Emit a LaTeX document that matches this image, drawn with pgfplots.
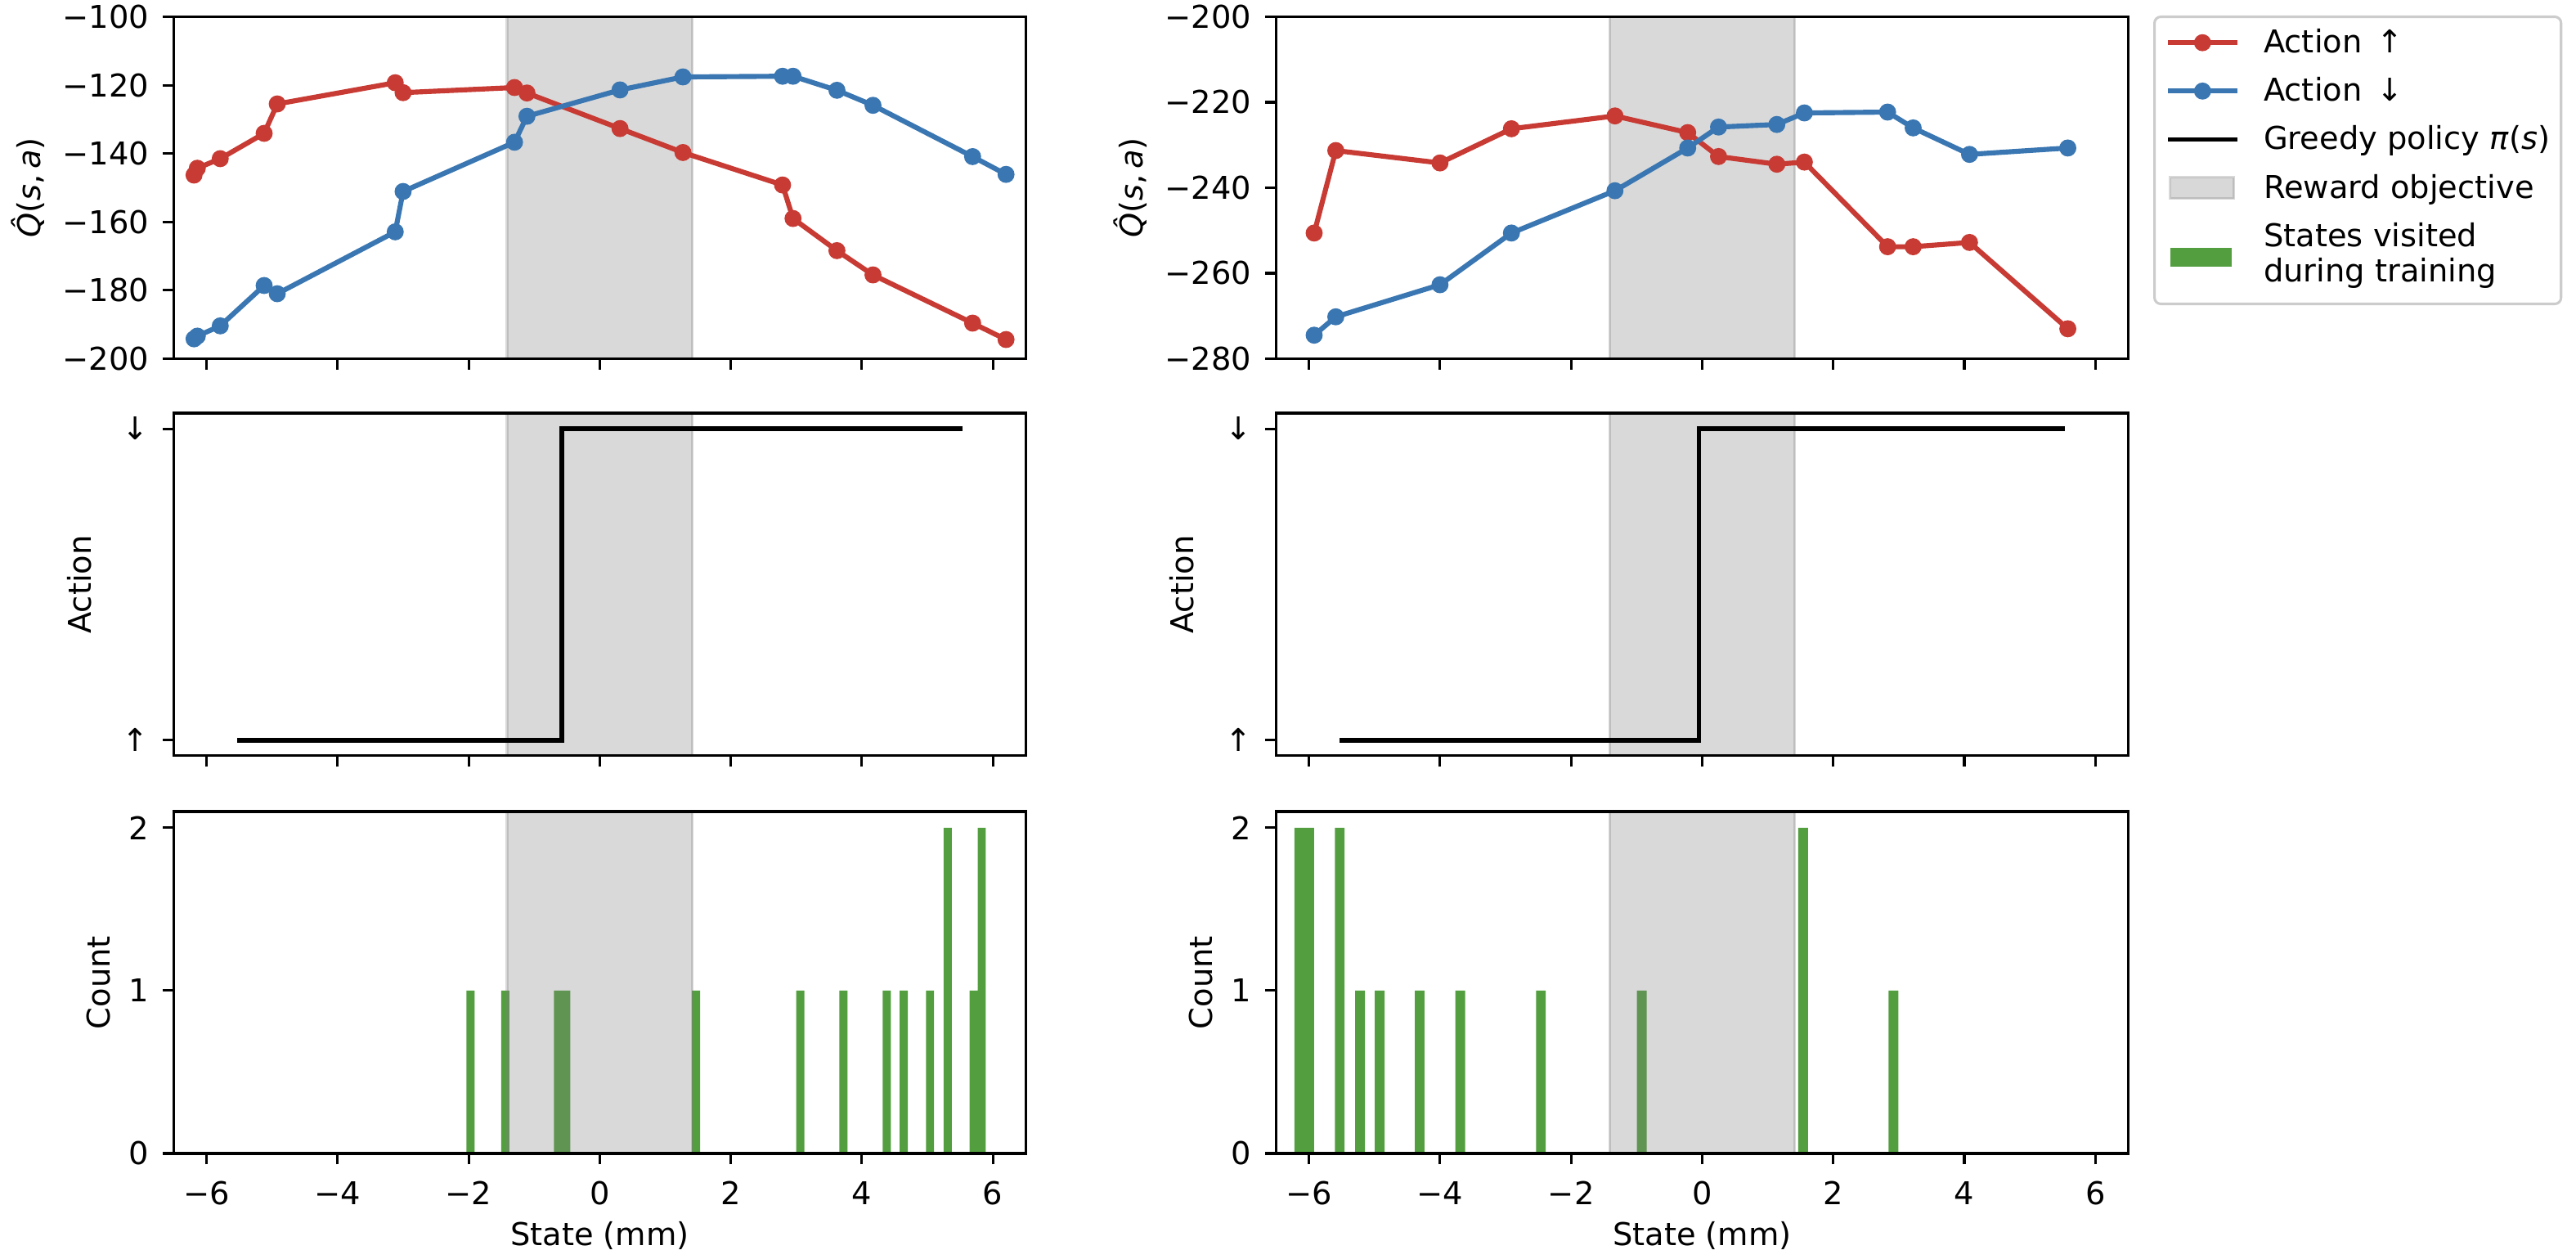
\documentclass[border=0pt]{standalone}
\usepackage{fontspec}
\setmainfont{DejaVu Sans}
\usepackage{pgfplots}
\usepackage{pgfplotstable}
\pgfplotsset{compat=1.18}

\definecolor{cred}{HTML}{C83B34}
\definecolor{cblue}{HTML}{3A77B2}
\definecolor{cgreen}{HTML}{539E3F}

\pgfplotstableread{
x up down
-6.19 -146.3 -194.2
-6.14 -144.3 -193.4
-5.79 -141.5 -190.4
-5.12 -134.1 -178.6
-4.92 -125.5 -181.0
-3.12 -119.3 -162.9
-3.00 -122.2 -151.1
-1.30 -120.7 -136.7
-1.11 -122.3 -129.1
0.31 -132.7 -121.4
1.27 -139.7 -117.6
2.79 -149.2 -117.4
2.95 -159.0 -117.4
3.62 -168.4 -121.5
4.17 -175.5 -125.9
5.69 -189.6 -140.9
6.20 -194.4 -146.1
}\qleft

\pgfplotstableread{
x up down
-5.92 -250.6 -274.5
-5.59 -231.3 -270.2
-4.00 -234.2 -262.7
-2.91 -226.2 -250.6
-1.33 -223.2 -240.7
-0.22 -227.1 -230.7
0.25 -232.7 -225.8
1.14 -234.5 -225.2
1.56 -234.0 -222.5
2.83 -253.8 -222.3
3.22 -253.8 -226.0
4.08 -252.8 -232.2
5.58 -273.0 -230.7
}\qright

\pgfplotstableread{
x a
-5.5 0
-0.58 0
-0.58 1
5.5 1
}\pleft

\pgfplotstableread{
x a
-5.5 0
-0.05 0
-0.05 1
5.5 1
}\pright

\pgfplotstableread{
x count
-1.97 1
-1.44 1
-0.635 1
-0.511 1
1.47 1
3.06 1
3.72 1
4.38 1
4.64 1
5.04 1
5.31 2
5.705 1
5.829 2
}\hleft

\pgfplotstableread{
x count
-6.145 2
-5.996 2
-5.53 2
-5.22 1
-4.92 1
-4.31 1
-3.69 1
-2.46 1
-0.92 1
1.54 2
2.92 1
}\hright

\pgfplotsset{
  panel/.style={
    scale only axis, width=271.3pt,
    anchor=south west,
    xmin=-6.5, xmax=6.5,
    xtick={-6,-4,-2,0,2,4,6},
    xticklabels={},
    axis line style={line width=0.8pt},
    every tick/.append style={black, line width=0.8pt},
    major tick length=3.5pt,
    tick align=outside,
    xtick pos=left, ytick pos=left,
    tick label style={font=\fontsize{10}{12}\selectfont, inner sep=0pt},
    yticklabel style={anchor=east, xshift=-4.2pt},
    xticklabel style={anchor=north, yshift=-5.2pt},
    label style={font=\fontsize{10}{12}\selectfont},
    axis on top,
  },
  qpanel/.style={panel, height=108.85pt,
    ylabel={\textit{\^{Q}}(\textit{s},\,\textit{a})},
    ylabel style={at={(axis description cs:-0.156,0.5)}, anchor=base}},
  ppanel/.style={panel, height=109.1pt,
    ymin=-0.05, ymax=1.05, ytick={0,1}, yticklabels={↑,↓},
    ylabel={Action},
    ylabel style={at={(axis description cs:-0.0965,0.5)}, anchor=base}},
  hpanel/.style={panel, height=108.85pt,
    ymin=0, ymax=2.1, ytick={0,1,2}, yticklabels={0,1,2},
    ylabel={Count},
    ylabel style={at={(axis description cs:-0.0744,0.5)}, anchor=base},
    xticklabels={−6,−4,−2,0,2,4,6},
    xlabel={State (mm)},
    xlabel style={at={(axis description cs:0.5,0)}, anchor=base, yshift=-29.2pt}},
  spanstyle/.style={fill=gray, fill opacity=0.3, draw=gray, draw opacity=0.3, line width=0.8pt, forget plot},
  qline/.style={line width=1.6pt, mark=*, mark size=1.9pt, forget plot},
  lineleg/.style={legend image code/.code={\draw[sharp corners,mark repeat=2,mark phase=2,##1] plot coordinates {(0pt,1pt) (11pt,1pt) (22pt,1pt)};}},
  grayleg/.style={legend image code/.code={\path[sharp corners,##1] (0.65pt,-2.4pt) rectangle (21pt,4.4pt);}},
  greenleg/.style={legend image code/.code={\fill[sharp corners,##1] (0.8pt,-3pt) rectangle (20.3pt,3pt);}},
}

\begin{document}
\begin{tikzpicture}
\useasboundingbox (0,0) rectangle (820.31pt,400.78pt);

% ---------- top left ----------
\begin{axis}[qpanel, at={(55.32pt,286.59pt)},
  ymin=-200, ymax=-100, ytick={-200,-180,-160,-140,-120,-100},
  yticklabels={−200,−180,−160,−140,−120,−100}]
\addplot[spanstyle] coordinates {(-1.414,-210) (-1.414,-90) (1.414,-90) (1.414,-210)} -- cycle;
\addplot[qline, cred] table[x=x, y=up] {\qleft};
\addplot[qline, cblue] table[x=x, y=down] {\qleft};
\end{axis}

% ---------- top right ----------
\begin{axis}[qpanel, at={(406.38pt,286.59pt)},
  ymin=-280, ymax=-200, ytick={-280,-260,-240,-220,-200},
  yticklabels={−280,−260,−240,−220,−200},
  legend style={
    at={(rel axis cs:1,1)}, anchor=north west, xshift=8.0pt, yshift=0.4pt,
    draw=black!20, line width=0.8pt, rounded corners=2pt, fill=white,
    font=\fontsize{10}{11.3}\selectfont,
    inner xsep=3.5pt, inner ysep=3.6pt,
    row sep=4.1pt, column sep=7.7pt,
    nodes={inner sep=0pt, text depth=},
    cells={anchor=west, align=left},
  }]
\addlegendimage{lineleg, cred, line width=1.6pt, mark=*, mark size=1.9pt}
\addlegendentry{\strut Action\hspace{4.6pt}↑}
\addlegendimage{lineleg, cblue, line width=1.6pt, mark=*, mark size=1.9pt}
\addlegendentry{\strut Action\hspace{4.6pt}↓}
\addlegendimage{lineleg, black, line width=1.5pt}
\addlegendentry{\strut Greedy policy \textit{π}(\textit{s})}
\addlegendimage{grayleg, fill=gray, fill opacity=0.3, draw=gray, draw opacity=0.3, line width=0.8pt}
\addlegendentry{\strut Reward objective}
\addlegendimage{greenleg, fill=cgreen, draw=none}
\addlegendentry{\strut States visited\\\strut during training}
\addplot[spanstyle] coordinates {(-1.414,-290) (-1.414,-190) (1.414,-190) (1.414,-290)} -- cycle;
\addplot[qline, cred] table[x=x, y=up] {\qright};
\addplot[qline, cblue] table[x=x, y=down] {\qright};
\end{axis}

% ---------- middle left ----------
\begin{axis}[ppanel, at={(55.32pt,160.16pt)}]
\addplot[spanstyle] coordinates {(-1.414,-0.2) (-1.414,1.2) (1.414,1.2) (1.414,-0.2)} -- cycle;
\addplot[black, line width=1.5pt, line cap=rect, forget plot] table[x=x, y=a] {\pleft};
\end{axis}

% ---------- middle right ----------
\begin{axis}[ppanel, at={(406.38pt,160.16pt)}]
\addplot[spanstyle] coordinates {(-1.414,-0.2) (-1.414,1.2) (1.414,1.2) (1.414,-0.2)} -- cycle;
\addplot[black, line width=1.5pt, line cap=rect, forget plot] table[x=x, y=a] {\pright};
\end{axis}

% ---------- bottom left ----------
\begin{axis}[hpanel, at={(55.32pt,33.59pt)}]
\addplot[ybar, bar width=0.124, fill=cgreen, draw=none, forget plot] table[x=x, y=count] {\hleft};
\addplot[spanstyle] coordinates {(-1.414,-0.5) (-1.414,2.5) (1.414,2.5) (1.414,-0.5)} -- cycle;
\end{axis}

% ---------- bottom right ----------
\begin{axis}[hpanel, at={(406.38pt,33.59pt)}]
\addplot[ybar, bar width=0.149, fill=cgreen, draw=none, forget plot] table[x=x, y=count] {\hright};
\addplot[spanstyle] coordinates {(-1.414,-0.5) (-1.414,2.5) (1.414,2.5) (1.414,-0.5)} -- cycle;
\end{axis}
\end{tikzpicture}
\end{document}
